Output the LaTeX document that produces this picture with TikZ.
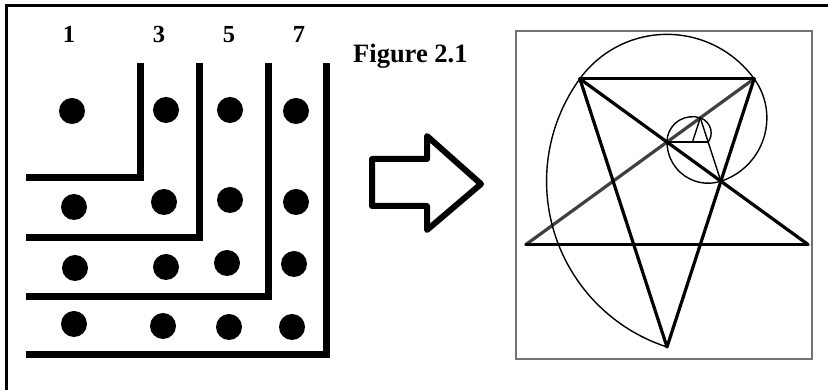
\documentclass[tikz,border=0pt]{standalone}
\usepackage{fontspec}
\setmainfont{Liberation Serif}
\begin{document}
\begin{tikzpicture}[x=1pt,y=1pt,
  lbar/.style={line width=7pt, line join=miter},
  dotc/.style={fill=black},
  digit/.style={font=\fontsize{24.5}{25}\selectfont\bfseries, anchor=base, inner sep=0pt},
  caption/.style={font=\fontsize{26.5}{27}\selectfont\bfseries, anchor=base west, inner sep=0pt},
  starline/.style={line width=3.2pt, line cap=round, line join=round},
  fine/.style={line width=1.4pt},
  blockarrow/.style={line width=6pt, line join=round}]
\useasboundingbox (0,0) rectangle (828,390);
\fill[white] (0,0) rectangle (828,390);
% outer frame (top and left)
\draw[line width=3.5pt] (6.5,0) -- (6.5,384.5) -- (828,384.5);
% labels
\node[digit] (n1) at (69,347.3) {1};
\node[digit] (n3) at (159,347.3) {3};
\node[digit] (n5) at (229,347.3) {5};
\node[digit] (n7) at (299,347.3) {7};
\node[caption] (fig) at (353,327) {Figure 2.1};
% L-shaped bars
\draw[lbar] (26,212) -- (140.5,212) -- (140.5,327);
\draw[lbar] (26,152) -- (199.5,152) -- (199.5,327);
\draw[lbar] (26,93.5) -- (268,93.5) -- (268,327);
\draw[lbar] (26,35.5) -- (326.5,35.5) -- (326.5,327);
% dots
\foreach \x/\y in {72/279,166/280,230/280,296/279,
                   74/183,164/188,230/190,296/188,
                   75/122,166/123,227/127,294/126,
                   74/66,163/64,229/63,292/63}
  \fill[dotc] (\x,\y) circle[radius=13];
% block arrow
\draw[blockarrow] (372,231) -- (427,231) -- (427,254) -- (481,206) -- (427,160) -- (427,184) -- (372,184) -- cycle;
% picture frame
\draw[line width=1.2pt, black!55] (516,31) rectangle (812,359);
% pentagram
\coordinate (O) at (667,191.3);
\path (O) ++(126:148.3) coordinate (A);
\path (O) ++(54:148.3) coordinate (B);
\path (O) ++(-18:148.3) coordinate (E);
\path (O) ++(-90:148.3) coordinate (C);
\path (O) ++(198:148.3) coordinate (D);
\path (O) ++(90:56.65) coordinate (P);
\path (O) ++(18:56.65) coordinate (Q);
\path (P) ++(36:41.15) coordinate (R);
\path (P) ++(0:41.15) coordinate (S);
\path (P) ++(0:25.43) coordinate (T);
\draw[starline, black!75] (B) -- (D);
\draw[starline] (A) -- (B);
\draw[starline] (A) -- (E);
\draw[starline] (D) -- (E);
\draw[starline] (A) -- (C) -- (B);
% golden triangles
\draw[fine] (Q) -- (R);
\draw[fine] (P) -- (S);
\draw[fine] (T) -- (R);
% spiral
\draw[fine] (C) arc[start angle=252,end angle=144,radius=174.3]
  arc[start angle=144,end angle=36,radius=107.73]
  arc[start angle=36,end angle=-72,radius=66.58]
  arc[start angle=-72,end angle=-180,radius=41.15]
  arc[start angle=180,end angle=72,radius=25.43]
  arc[start angle=72,end angle=-36,radius=15.72];
\end{tikzpicture}
\end{document}
